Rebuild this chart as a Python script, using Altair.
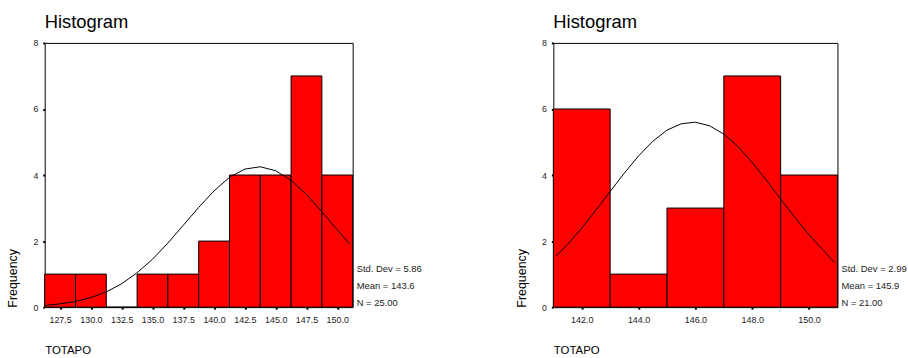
import altair as alt
import pandas as pd

# ---- data ----
left_edges = [126.25, 128.75, 131.25, 133.75, 136.25, 138.75, 141.25, 143.75, 146.25, 148.75, 151.25]
left_counts = [1, 1, 0, 1, 1, 2, 4, 4, 7, 4]
left_ticks = [127.5, 130.0, 132.5, 135.0, 137.5, 140.0, 142.5, 145.0, 147.5, 150.0]
left_curve_x = [126.25, 127.5, 128.75, 130.0, 131.25, 132.5, 133.75, 135.0, 136.25, 137.5, 138.75,
                140.0, 141.25, 142.5, 143.75, 145.0, 146.25, 147.5, 148.75, 150.0, 151.0]
left_curve_y = [0.05, 0.10, 0.17, 0.29, 0.46, 0.71, 1.04, 1.45, 1.94, 2.48, 3.02,
                3.52, 3.93, 4.18, 4.25, 4.13, 3.84, 3.41, 2.89, 2.34, 1.92]
left_stats = ["Std. Dev = 5.86", "Mean = 143.6", "N = 25.00"]

right_edges = [141.0, 143.0, 145.0, 147.0, 149.0, 151.0]
right_counts = [6, 1, 3, 7, 4]
right_ticks = [142.0, 144.0, 146.0, 148.0, 150.0]
right_curve_x = [141.1, 141.5, 142.0, 142.5, 143.0, 143.5, 144.0, 144.5, 145.0, 145.5, 146.0,
                 146.5, 147.0, 147.5, 148.0, 148.5, 149.0, 149.5, 150.0, 150.5, 150.9]
right_curve_y = [1.55, 1.90, 2.39, 2.94, 3.50, 4.06, 4.58, 5.02, 5.36, 5.55, 5.60,
                 5.49, 5.24, 4.86, 4.38, 3.84, 3.27, 2.72, 2.19, 1.72, 1.35]
right_stats = ["Std. Dev = 2.99", "Mean = 145.9", "N = 21.00"]

y_ticks = [0, 2, 4, 6, 8]
FONT = "Liberation Sans"
H = 266


def panel(edges, counts, ticks, cx, cy, stats, width):
    bars = pd.DataFrame({"start": edges[:-1], "end": edges[1:], "count": counts})
    curve = pd.DataFrame({"x": cx, "y": cy})
    xscale = alt.Scale(domain=[edges[0], edges[-1]], nice=False, zero=False)
    yscale = alt.Scale(domain=[0, 8], nice=False)
    xaxis = alt.Axis(values=ticks, format=".1f", title="TOTAPO", titleAnchor="start",
                     titleAlign="left", titlePadding=21, titleFontSize=11.5,
                     titleFontWeight="normal", titleFont=FONT, labelFont=FONT,
                     labelFontSize=9, labelColor="#222", labelPadding=6,
                     tickSize=2, tickWidth=2, tickColor="black", domain=False,
                     grid=False, labelFlush=False, labelOverlap=False)
    yaxis = alt.Axis(values=y_ticks, title="Frequency", titleAnchor="start",
                     titlePadding=13, titleFontSize=12.5, titleFontWeight="normal",
                     titleFont=FONT, labelFont=FONT, labelFontSize=8.8,
                     labelColor="#222", labelPadding=5, tickSize=2, tickWidth=2,
                     tickColor="black", domain=False, grid=False, labelOverlap=False)
    rects = alt.Chart(bars).mark_rect(color="#ff0000", stroke="black", strokeWidth=1).encode(
        x=alt.X("start:Q", scale=xscale, axis=xaxis),
        x2="end:Q",
        y=alt.Y("count:Q", scale=yscale, axis=yaxis),
        y2=alt.datum(0),
    )
    line = alt.Chart(curve).mark_line(color="black", strokeWidth=1, clip=True).encode(
        x=alt.X("x:Q", scale=xscale, axis=xaxis),
        y=alt.Y("y:Q", scale=yscale, axis=yaxis),
    )
    layers = [rects, line]
    for i, s in enumerate(stats):
        layers.append(
            alt.Chart(pd.DataFrame({"t": [s]})).mark_text(
                align="left", baseline="middle", font=FONT, fontSize=9.5, color="#222"
            ).encode(text="t:N", x=alt.value(width + 4), y=alt.value(228 + i * 17))
        )
    return alt.layer(*layers).properties(
        width=width, height=H,
        title=alt.TitleParams("Histogram", anchor="start", frame="group", font=FONT,
                              fontSize=18.5, fontWeight="normal", color="black", offset=8),
    )


left = panel(left_edges, left_counts, left_ticks, left_curve_x, left_curve_y, left_stats, 310)
right = panel(right_edges, right_counts, right_ticks, right_curve_x, right_curve_y, right_stats, 286)

chart = alt.hconcat(left, right, spacing=202, bounds="flush").properties(
    padding={"left": 6, "top": 11, "right": 0, "bottom": 0},
    background="white",
).configure_view(stroke="black", strokeWidth=1).configure_axis(labelOverlap=False)

chart.save("out.html", embed_options={"renderer": "svg", "actions": False})
